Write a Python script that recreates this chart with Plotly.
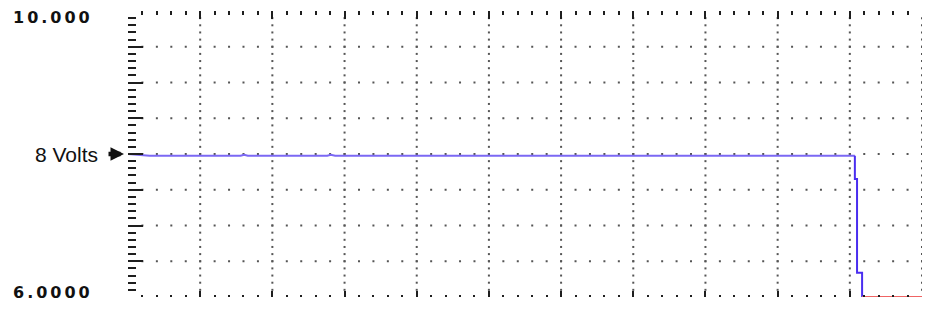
import numpy as np
import plotly.graph_objects as go

# ---- data (time in divisions, volts) ----
t_main = [0.0, 0.3, 1.56, 1.61, 1.66, 2.76, 2.81, 2.87, 10.07]
v_main = [8.00, 7.975, 7.975, 7.99, 7.975, 7.975, 7.99, 7.975, 7.975]
t_drop = [10.07, 10.07, 10.10, 10.10, 10.17, 10.17]
v_drop = [7.975, 7.65, 7.65, 6.34, 6.34, 6.0]
t_floor = [10.17, 11.0]
v_floor = [6.0, 6.0]

y_labels = ["10.000", "8 Volts", "6.0000"]
y_label_vals = [10.0, 8.0, 6.0]

X_MIN, X_MAX, X_MAJ, X_MIN_STEP = 0.0, 11.0, 1.0, 0.2
Y_MIN, Y_MAX, Y_MAJ, Y_MIN_STEP = 6.0, 10.0, 0.5, 0.1

# page body has an 8px default margin -> figure is offset by 8px
OFF = 8
W, H = 930 - OFF, 320 - OFF
PLOT_L, PLOT_R, PLOT_T, PLOT_B = 128, 922, 11, 297   # page pixels
ML, MR, MT, MB = PLOT_L - OFF, W - (PLOT_R - OFF), PLOT_T - OFF, H - (PLOT_B - OFF)
PW = W - ML - MR

TICK = "#1e1e1e"
DOT = "#555555"

fig = go.Figure()

# dotted grid (dots at minor positions along each major line)
gx, gy = [], []
xs_minor = np.round(np.arange(X_MIN, X_MAX + 1e-9, X_MIN_STEP), 4)
ys_minor = np.round(np.arange(Y_MIN, Y_MAX + 1e-9, Y_MIN_STEP), 4)
for yv in np.arange(Y_MIN + Y_MAJ, Y_MAX - 1e-9, Y_MAJ):
    for xv in xs_minor[1:]:
        gx.append(xv); gy.append(yv)
for xv in np.arange(X_MIN + X_MAJ, X_MAX + 1e-9, X_MAJ):
    for yv in ys_minor[1:-1]:
        gx.append(xv); gy.append(yv)
fig.add_trace(go.Scatter(x=gx, y=gy, mode="markers",
                         marker=dict(symbol="square", size=2, color=DOT, line=dict(width=0)),
                         hoverinfo="skip", showlegend=False, cliponaxis=False))

# helper invisible trace for bottom axis
fig.add_trace(go.Scatter(x=[X_MIN, X_MAX], y=[Y_MIN, Y_MIN], xaxis="x2", mode="markers",
                         marker=dict(opacity=0), hoverinfo="skip", showlegend=False))

fig.add_trace(go.Scatter(x=t_main, y=v_main, mode="lines",
                         line=dict(color="#7b68f4", width=2), showlegend=False, cliponaxis=False))
fig.add_trace(go.Scatter(x=t_drop, y=v_drop, mode="lines",
                         line=dict(color="#4a2ef0", width=2), showlegend=False, cliponaxis=False))
fig.add_trace(go.Scatter(x=t_floor, y=v_floor, mode="lines",
                         line=dict(color="#f06464", width=2), showlegend=False, cliponaxis=False))

def px_to_paper(px):
    return (px - PLOT_L) / PW

annots = [
    dict(text='<span style="letter-spacing:3px">' + y_labels[0] + "</span>", x=px_to_paper(53), xanchor="center",
         y=y_label_vals[0], yshift=-6, showarrow=False,
         font=dict(family="DejaVu Sans", size=16, color="#111", weight="bold")),
    dict(text=y_labels[1], x=px_to_paper(100), xanchor="right",
         y=y_label_vals[1], yshift=0, showarrow=False,
         font=dict(family="Liberation Sans", size=21, color="#111")),
    # heavy pointer arrow next to the 8 Volts label
    dict(text="", x=px_to_paper(124), y=y_label_vals[1], ax=-17, ay=0,
         showarrow=True, arrowhead=2, arrowsize=0.6, arrowwidth=4.5, arrowcolor="#111",
         standoff=0, startstandoff=0),
    dict(text='<span style="letter-spacing:3px">' + y_labels[2] + "</span>", x=px_to_paper(53), xanchor="center",
         y=y_label_vals[2], yshift=5, showarrow=False,
         font=dict(family="DejaVu Sans", size=16, color="#111", weight="bold")),
]
for a in annots:
    a.update(xref="paper", yref="y", yanchor="middle")

fig.update_layout(
    width=W, height=H,
    margin=dict(l=ML, r=MR, t=MT, b=MB, pad=0, autoexpand=False),
    paper_bgcolor="white", plot_bgcolor="white",
    showlegend=False,
    annotations=annots,
    xaxis=dict(range=[X_MIN, X_MAX], side="top", showgrid=False, zeroline=False,
               showticklabels=False, showline=False, ticks="inside",
               tickmode="linear", tick0=0, dtick=X_MAJ, ticklen=8, tickwidth=2, tickcolor=TICK,
               minor=dict(ticks="inside", tickmode="linear", tick0=0, dtick=X_MIN_STEP,
                          ticklen=4, tickwidth=2, tickcolor=TICK, showgrid=False),
               fixedrange=True),
    xaxis2=dict(range=[X_MIN, X_MAX], overlaying="x", side="bottom", anchor="y",
                showgrid=False, zeroline=False, showticklabels=False, showline=False,
                ticks="inside", tickmode="linear", tick0=0, dtick=X_MAJ, ticklen=6, tickwidth=2,
                tickcolor=TICK,
                minor=dict(ticks="inside", tickmode="linear", tick0=0, dtick=X_MIN_STEP,
                           ticklen=2, tickwidth=2, tickcolor=TICK, showgrid=False),
                fixedrange=True),
    yaxis=dict(range=[Y_MIN, Y_MAX], showgrid=False, zeroline=False, showticklabels=False,
               showline=False, ticks="inside", tickmode="linear", tick0=Y_MIN, dtick=Y_MAJ,
               ticklen=15, tickwidth=2, tickcolor=TICK,
               minor=dict(ticks="inside", tickmode="linear", tick0=Y_MIN, dtick=Y_MIN_STEP,
                          ticklen=8, tickwidth=2, tickcolor=TICK, showgrid=False),
               fixedrange=True),
)

fig.write_html("out.html")
